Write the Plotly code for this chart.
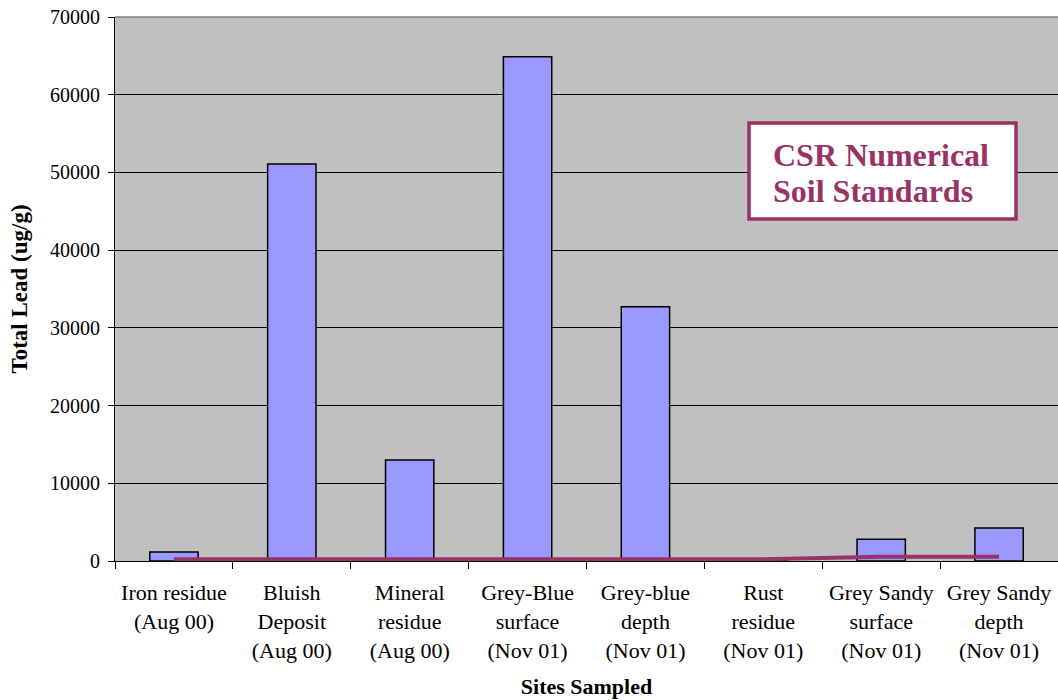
import plotly.graph_objects as go

categories = [
    "Iron residue<br>(Aug 00)",
    "Bluish<br>Deposit<br>(Aug 00)",
    "Mineral<br>residue<br>(Aug 00)",
    "Grey-Blue<br>surface<br>(Nov 01)",
    "Grey-blue<br>depth<br>(Nov 01)",
    "Rust<br>residue<br>(Nov 01)",
    "Grey Sandy<br>surface<br>(Nov 01)",
    "Grey Sandy<br>depth<br>(Nov 01)",
]
total_lead = [1150, 51100, 13000, 64900, 32700, 40, 2800, 4250]
csr_standards = [230, 230, 230, 230, 230, 230, 550, 550]
y_ticks = [0, 10000, 20000, 30000, 40000, 50000, 60000, 70000]

FONT = "Liberation Serif, Times New Roman, serif"
PLUM = "#993366"

fig = go.Figure()
fig.add_trace(go.Bar(
    x=categories, y=total_lead,
    marker=dict(color="#9999FF", line=dict(color="black", width=1.5)),
    showlegend=False,
))
fig.add_trace(go.Scatter(
    x=categories, y=csr_standards, mode="lines",
    line=dict(color=PLUM, width=4),
    showlegend=False,
))

fig.update_layout(
    width=1058, height=700,
    margin=dict(l=115, r=0, t=17, b=139, autoexpand=False),
    paper_bgcolor="white",
    plot_bgcolor="#C0C0C0",
    bargap=0.59,
    font=dict(family=FONT, color="black", size=22),
    xaxis=dict(
        type="category",
        tickson="boundaries",
        ticks="outside", ticklen=7, tickcolor="black",
        ticklabelstandoff=12,
        showline=True, linecolor="black", linewidth=1,
        tickfont=dict(size=22, family=FONT),
        title=dict(text="<b>Sites Sampled</b>", font=dict(size=22, family=FONT), standoff=17),
        showgrid=False,
    ),
    yaxis=dict(
        range=[0, 70000],
        tickvals=y_ticks,
        ticktext=[str(v) for v in y_ticks],
        ticks="outside", ticklen=6, tickcolor="black",
        ticklabelstandoff=4,
        ticklabeloverflow="allow",
        showline=True, linecolor="black", linewidth=1,
        showgrid=True, gridcolor="black", gridwidth=1,
        zeroline=False,
        tickfont=dict(size=20, family=FONT),
        title=dict(text="<b>Total Lead (ug/g)</b>", font=dict(size=23, family=FONT), standoff=15),
    ),
)

# gray plot frame top line
fig.add_shape(type="line", xref="paper", yref="paper", x0=0, x1=1, y0=1, y1=1,
              line=dict(color="#808080", width=1.5))

# text box
fig.add_shape(type="rect", xref="paper", yref="paper",
              x0=(749 - 115) / 943, x1=(1016 - 115) / 943,
              y0=(561 - 219) / 544, y1=(561 - 123) / 544,
              fillcolor="white", line=dict(color=PLUM, width=3.5), layer="above")
fig.add_annotation(xref="paper", yref="paper",
                   x=(771 - 115) / 943, y=(561 - 155) / 544,
                   xanchor="left", yanchor="middle", showarrow=False,
                   text="<b>CSR Numerical</b>",
                   font=dict(size=32, color=PLUM, family=FONT))
fig.add_annotation(xref="paper", yref="paper",
                   x=(771 - 115) / 943, y=(561 - 191) / 544,
                   xanchor="left", yanchor="middle", showarrow=False,
                   text="<b>Soil Standards</b>",
                   font=dict(size=32, color=PLUM, family=FONT))

fig.write_html("out.html",
               config={"displayModeBar": False},
               post_script="document.body.style.margin='0';document.body.style.overflow='hidden';")
